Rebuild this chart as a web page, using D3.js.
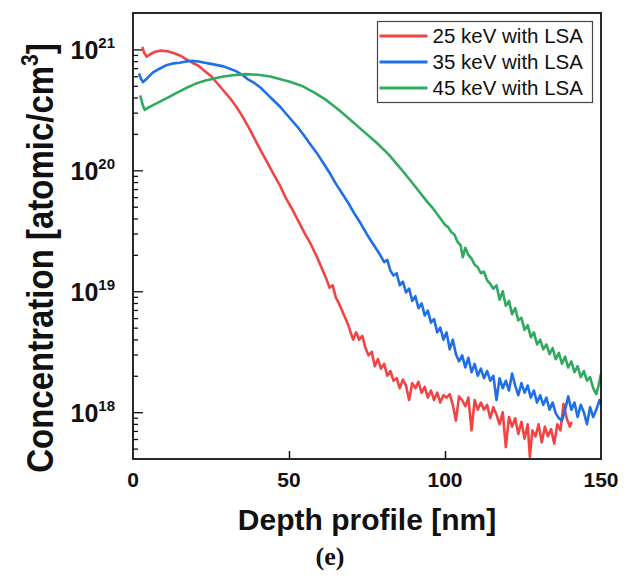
<!DOCTYPE html>
<html>
<head>
<meta charset="utf-8">
<script src="https://cdn.jsdelivr.net/npm/d3@7"></script>
<style>
  body { margin: 0; background: #fff; }
</style>
</head>
<body>
<div id="chart"></div>
<script>
// depth [nm], concentration [atomic/cm3]
let red25 = [
    [3.0, 1.05e21], [3.6, 9.33e20], [4.4, 8.71e20], [5.5, 9.12e20], [7, 9.55e20], [9, 9.77e20],
    [11, 9.66e20], [13, 9.33e20], [15, 8.91e20], [17, 8.32e20], [19, 7.76e20], [21, 7.33e20],
    [23, 6.61e20], [25, 6.03e20], [27, 5.25e20], [29, 4.57e20], [31, 3.98e20], [33, 3.39e20],
    [35, 2.82e20], [37, 2.29e20], [39, 1.82e20], [41, 1.45e20], [43, 1.17e20], [45, 9.33e19],
    [47, 7.59e19], [49, 5.89e19], [51, 4.79e19], [53, 3.80e19], [55, 3.02e19], [57, 2.45e19],
    [59, 1.91e19], [61, 1.45e19], [62, 1.26e19], [63, 1.07e19], [64, 1.12e19], [65, 8.91e18],
    [66, 7.94e18], [67, 6.92e18], [68, 6.03e18], [69, 5.25e18], [70, 4.37e18], [70.6, 3.98e18],
    [71.5, 4.57e18], [72.5, 3.98e18], [73.5, 4.27e18], [74.5, 3.39e18], [75.5, 2.95e18], [76.5, 3.16e18],
    [77.5, 2.40e18], [78.5, 2.75e18], [79.5, 2.29e18], [80.5, 2.51e18], [81.5, 2.00e18], [82.5, 2.19e18],
    [83.5, 1.82e18], [84.5, 1.91e18], [85.5, 1.58e18], [86.5, 1.86e18], [87.5, 1.66e18], [88.5, 1.26e18],
    [89.5, 1.74e18], [90.5, 1.58e18], [91.5, 1.78e18], [92.5, 1.45e18], [93.5, 1.62e18], [94.5, 1.32e18],
    [95.5, 1.51e18], [96.5, 1.26e18], [97.5, 1.45e18], [98.5, 1.20e18], [99.5, 1.38e18], [100.5, 1.32e18],
    [101.5, 1.41e18], [102.5, 1.15e18], [103.5, 8.51e17], [104.5, 1.35e18], [105.5, 1.26e18], [106.5, 1.12e18],
    [107.5, 1.32e18], [108.5, 7.08e17], [109.5, 1.26e18], [110.5, 1.05e18], [111.5, 1.20e18], [112.5, 1.05e18],
    [113.5, 1.15e18], [114.5, 8.91e17], [115.5, 1.10e18], [116.5, 9.55e17], [117.5, 7.94e17], [118.5, 1.00e18],
    [119.5, 5.13e17], [120.5, 9.12e17], [121.5, 7.59e17], [122.5, 8.91e17], [123.5, 6.61e17], [124.5, 8.32e17],
    [125.5, 6.03e17], [126.5, 7.94e17], [127.2, 4.27e17], [128, 7.08e17], [129, 6.31e17], [130, 7.94e17],
    [131, 5.62e17], [132, 7.59e17], [133, 6.31e17], [134, 7.24e17], [135, 5.50e17], [136, 7.94e17],
    [137, 7.08e17], [138, 1.17e18], [139, 8.91e17], [140, 7.59e17], [140.6, 8.32e17]
];

let blue35 = [
    [1.9, 6.31e20], [2.5, 5.75e20], [3.2, 5.37e20], [4.5, 5.75e20], [6.4, 6.46e20], [8.5, 6.92e20],
    [10.7, 7.41e20], [13, 7.67e20], [15, 7.76e20], [17, 7.94e20], [19, 8.04e20], [21, 7.94e20],
    [23, 7.76e20], [25, 7.59e20], [27, 7.41e20], [29, 7.24e20], [31, 6.92e20], [33, 6.61e20],
    [35, 6.17e20], [37, 5.62e20], [39, 5.25e20], [41, 4.79e20], [43, 4.27e20], [45, 3.80e20],
    [47, 3.39e20], [49, 2.95e20], [51, 2.57e20], [53, 2.24e20], [55, 1.91e20], [57, 1.62e20],
    [59, 1.38e20], [61, 1.15e20], [63, 9.55e19], [65, 7.76e19], [67, 6.46e19], [69, 5.37e19],
    [71, 4.37e19], [73, 3.63e19], [75, 2.95e19], [77, 2.45e19], [79, 2.04e19], [80.5, 1.74e19],
    [81.5, 1.82e19], [82.5, 1.48e19], [83.5, 1.35e19], [84.5, 1.41e19], [85.5, 1.12e19], [86.5, 1.20e19],
    [87.5, 9.77e18], [88.5, 1.05e19], [89.5, 8.32e18], [90.5, 9.12e18], [91.5, 7.24e18], [92.5, 7.94e18],
    [93.5, 6.31e18], [94.5, 6.92e18], [95.5, 5.50e18], [96.5, 5.89e18], [97.5, 4.57e18], [98.5, 5.01e18],
    [99.5, 3.98e18], [100.5, 4.57e18], [101.5, 3.31e18], [102.5, 3.98e18], [103.5, 3.02e18], [104.5, 2.63e18],
    [105.5, 2.95e18], [106.5, 2.34e18], [107.5, 2.82e18], [108.5, 2.14e18], [109.5, 2.51e18], [110.5, 2.00e18],
    [111.5, 2.29e18], [112.5, 1.91e18], [113.5, 2.19e18], [114.5, 1.82e18], [115.5, 2.00e18], [116.5, 1.26e18],
    [117.5, 1.91e18], [118.5, 1.58e18], [119.5, 1.82e18], [120.5, 1.51e18], [121.5, 2.09e18], [122.5, 1.66e18],
    [123.5, 1.38e18], [124.5, 1.74e18], [125.5, 1.45e18], [126.5, 1.66e18], [127.5, 1.32e18], [128.5, 1.51e18],
    [129.5, 1.20e18], [130.5, 1.38e18], [131.5, 1.15e18], [132.5, 1.32e18], [133.5, 1.05e18], [134.5, 1.20e18],
    [135.5, 9.77e17], [136.5, 8.91e17], [137.5, 8.51e17], [138.5, 1.05e18], [139.5, 1.35e18], [140.5, 1.05e18],
    [141.5, 1.20e18], [142.5, 9.12e17], [143.5, 1.15e18], [144.5, 1.00e18], [145.5, 7.94e17], [146.5, 1.10e18],
    [147.5, 9.12e17], [148.5, 1.05e18], [149.5, 1.26e18], [150, 1.15e18]
];

let green45 = [
    [2.3, 4.17e20], [3.0, 3.55e20], [3.7, 3.16e20], [5, 3.31e20], [8, 3.63e20], [11, 3.98e20],
    [14, 4.37e20], [17, 4.79e20], [20, 5.19e20], [23, 5.50e20], [26, 5.75e20], [29, 5.96e20],
    [32, 6.12e20], [36, 6.24e20], [40, 6.17e20], [44, 5.96e20], [47, 5.69e20], [50, 5.43e20],
    [54, 5.01e20], [58, 4.42e20], [62, 3.80e20], [66, 3.16e20], [70, 2.57e20], [74, 2.09e20],
    [78, 1.70e20], [82, 1.35e20], [86, 1.02e20], [90, 7.59e19], [94, 5.62e19], [96, 4.90e19],
    [98, 4.17e19], [100, 3.55e19], [101, 3.39e19], [102, 3.09e19], [103, 2.95e19], [104, 2.57e19],
    [105, 2.40e19], [105.7, 1.91e19], [106.5, 2.29e19], [107.5, 2.00e19], [108.5, 1.86e19], [109.5, 1.66e19],
    [110.5, 1.58e19], [111.5, 1.41e19], [112.5, 1.45e19], [113.5, 1.23e19], [114.5, 1.15e19], [115.5, 1.05e19],
    [116.5, 1.12e19], [117.5, 8.51e18], [118.5, 1.00e19], [119.5, 7.59e18], [120.5, 8.32e18], [121.5, 6.46e18],
    [122.5, 7.24e18], [123.5, 5.75e18], [124.5, 6.03e18], [125.5, 4.79e18], [126.5, 5.25e18], [127.5, 4.17e18],
    [128.5, 4.57e18], [129.5, 3.63e18], [130.5, 3.98e18], [131.5, 3.31e18], [132.5, 3.63e18], [133.5, 3.02e18],
    [134.5, 3.39e18], [135.5, 2.75e18], [136.5, 3.09e18], [137.5, 2.51e18], [138.5, 2.88e18], [139.5, 2.34e18],
    [140.5, 2.63e18], [141.5, 2.14e18], [142.5, 2.40e18], [143.5, 1.95e18], [144.5, 2.19e18], [145.5, 1.82e18],
    [146.5, 1.95e18], [147.5, 1.58e18], [148.5, 1.41e18], [149.2, 1.66e18], [150, 2.09e18]
];

let seriesNames = ["25 keV with LSA", "35 keV with LSA", "45 keV with LSA"];
let seriesColors = ["#f24444", "#1f6fe6", "#2fab5f"];
let xTicks = [0, 50, 100, 150];
let yDecades = [18, 19, 20, 21];

const sans = "'Liberation Sans', Arial, sans-serif";
const W = 637, H = 578;
const margin = {left: 133, top: 13, right: 36, bottom: 119};
const pw = W - margin.left - margin.right;
const ph = H - margin.top - margin.bottom;

let svg = d3.select("#chart").append("svg")
    .attr("width", W)
    .attr("height", H)
    .style("font-family", sans);

let x = d3.scaleLinear().domain([0, 150]).range([0, pw]);
let y = d3.scaleLog().domain([4.1e17, 2e21]).range([ph, 0]);

let g = svg.append("g").attr("transform", `translate(${margin.left},${margin.top})`);

g.append("clipPath").attr("id", "clip")
    .append("rect").attr("width", pw).attr("height", ph);

// minor + major y ticks (inside)
let minorVals = [];
[17, 18, 19, 20].forEach(function (e) {
    for (let m = 1; m <= 9; m++) {
        let v = m * Math.pow(10, e);
        if (v >= 4.1e17 && v <= 2e21) minorVals.push(v);
    }
});
minorVals.push(1e21);

let yAxis = d3.axisRight(y).tickValues(minorVals).tickFormat("")
    .tickSize(5).tickSizeOuter(0);
let yMinor = g.append("g").call(yAxis);
yMinor.select(".domain").remove();
yMinor.selectAll("line")
    .attr("stroke", "#111")
    .attr("stroke-width", 1.3)
    .attr("x2", function (d) {
        let lg = Math.log10(d);
        return Math.abs(lg - Math.round(lg)) < 1e-6 ? 10 : 5;
    });

// x ticks (inside, pointing up)
let xAxis = d3.axisTop(x).tickValues([50, 100]).tickFormat("").tickSize(8).tickSizeOuter(0);
let xg = g.append("g").attr("transform", `translate(0,${ph})`).call(xAxis);
xg.select(".domain").remove();
xg.selectAll("line").attr("stroke", "#111").attr("stroke-width", 1.5);

// x tick labels
g.selectAll(".xlab").data(xTicks).enter().append("text")
    .attr("x", d => x(d))
    .attr("y", ph + 28)
    .attr("text-anchor", "middle")
    .attr("font-weight", "bold")
    .attr("font-size", 21)
    .attr("fill", "#111")
    .text(d => d);

// y tick labels as 10^n
let ylab = g.selectAll(".ylab").data(yDecades).enter().append("text")
    .attr("x", -18)
    .attr("y", d => y(Math.pow(10, d)) + 10)
    .attr("text-anchor", "end")
    .attr("font-weight", "bold")
    .attr("font-size", 25)
    .attr("fill", "#111");
ylab.append("tspan").text("10");
ylab.append("tspan").attr("font-size", 15).attr("dy", -11).text(d => d);

// lines
let line = d3.line().x(d => x(d[0])).y(d => y(d[1]));
let lineData = [red25, blue35, green45];
g.append("g").attr("clip-path", "url(#clip)")
    .selectAll("path").data(lineData).enter().append("path")
    .attr("d", line)
    .attr("fill", "none")
    .attr("stroke", (d, i) => seriesColors[i])
    .attr("stroke-width", 2.6)
    .attr("stroke-linejoin", "round");

// frame
g.append("rect")
    .attr("width", pw).attr("height", ph)
    .attr("fill", "none")
    .attr("stroke", "#111")
    .attr("stroke-width", 1.8);

// legend
let lg = g.append("g").attr("transform", `translate(${377.5 - margin.left},${21.5 - margin.top})`);
lg.append("rect")
    .attr("width", 215).attr("height", 81)
    .attr("fill", "#fff")
    .attr("stroke", "#444")
    .attr("stroke-width", 1.2);
seriesNames.forEach(function (name, i) {
    let yy = 14.5 + i * 26;
    lg.append("line")
        .attr("x1", 2).attr("x2", 50)
        .attr("y1", yy).attr("y2", yy)
        .attr("stroke", seriesColors[i])
        .attr("stroke-width", 2.8);
    lg.append("text")
        .attr("x", 55).attr("y", yy + 7)
        .attr("font-size", 20.5)
        .attr("fill", "#111")
        .text(name);
});

// axis titles
svg.append("text")
    .attr("x", margin.left + pw / 2)
    .attr("y", 530)
    .attr("text-anchor", "middle")
    .attr("font-weight", "bold")
    .attr("font-size", 30)
    .attr("fill", "#111")
    .text("Depth profile [nm]");

let yt = svg.append("text")
    .attr("transform", "translate(53,258) scale(1.1,1) rotate(-90)")
    .attr("text-anchor", "middle")
    .attr("font-weight", "bold")
    .attr("font-size", 33)
    .attr("fill", "#111");
yt.append("tspan").text("Concentration [atomic/cm");
yt.append("tspan").attr("font-size", 21).attr("dy", -14).text("3");
yt.append("tspan").attr("dy", 14).text("]");

svg.append("text")
    .attr("x", 330)
    .attr("y", 565)
    .attr("text-anchor", "middle")
    .style("font-family", "'Liberation Serif', 'Times New Roman', serif")
    .attr("font-weight", "bold")
    .attr("font-size", 26)
    .attr("fill", "#111")
    .text("(e)");
</script>
</body>
</html>
